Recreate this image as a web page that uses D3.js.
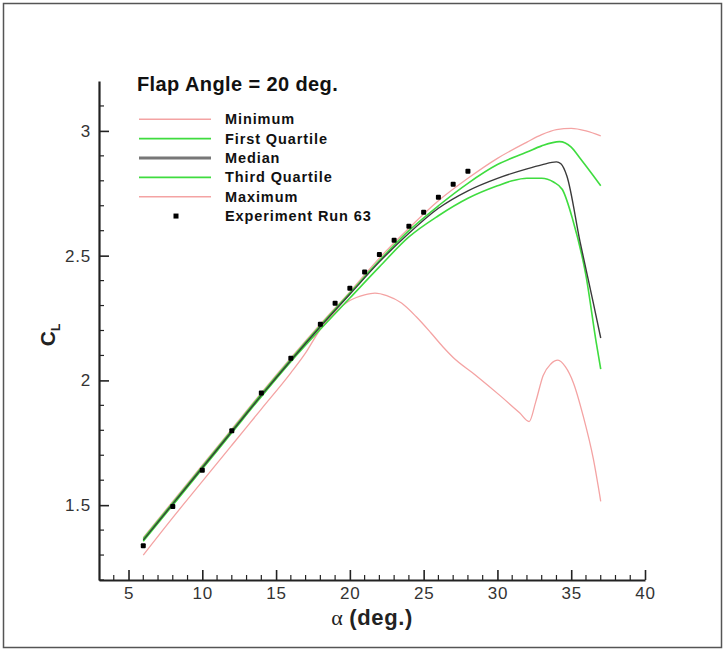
<!DOCTYPE html>
<html>
<head>
<meta charset="utf-8">
<script src="https://cdn.jsdelivr.net/npm/d3@7/dist/d3.min.js"></script>
<style>
  html, body { margin: 0; padding: 0; background: #fff; }
  svg { display: block; }
  text { font-family: "Liberation Sans", Arial, Helvetica, sans-serif; }
</style>
</head>
<body>
<svg id="chart" width="725" height="651"></svg>
<script>
// Lift coefficient vs. angle of attack, flap angle 20 deg.
const minAlpha = [6, 8, 10, 12, 14, 16, 17, 18, 19, 20, 21, 21.7, 22.5, 23.5, 24.5, 25.5, 26.3, 27, 28.5, 30.2, 31.5, 32.15, 32.6, 33.1, 33.6, 34.1, 34.6, 35.15, 35.8, 36.5, 37];
const minCL    = [1.30, 1.45, 1.595, 1.74, 1.885, 2.03, 2.11, 2.205, 2.272, 2.32, 2.343, 2.35, 2.34, 2.31, 2.255, 2.19, 2.135, 2.092, 2.022, 1.938, 1.87, 1.835, 1.915, 2.02, 2.065, 2.081, 2.055, 1.99, 1.86, 1.685, 1.515];

const q1Alpha = [6, 8, 10, 12, 14, 16, 18, 20, 22, 24, 26, 28, 30, 31, 32, 33, 33.8, 34.4, 35.1, 36, 36.7, 37];
const q1CL    = [1.355, 1.50, 1.645, 1.79, 1.935, 2.075, 2.205, 2.33, 2.455, 2.575, 2.66, 2.73, 2.78, 2.80, 2.81, 2.81, 2.795, 2.765, 2.645, 2.42, 2.15, 2.045];

const medAlpha = [6, 8, 10, 12, 14, 16, 18, 20, 22, 24, 26, 28, 30, 32, 33, 34, 34.3, 34.7, 35.6, 36.5, 37];
const medCL    = [1.36, 1.505, 1.65, 1.795, 1.94, 2.08, 2.215, 2.345, 2.475, 2.59, 2.69, 2.76, 2.81, 2.848, 2.864, 2.876, 2.868, 2.82, 2.555, 2.31, 2.17];

const q3Alpha = [6, 8, 10, 12, 14, 16, 18, 20, 22, 24, 26, 28, 30, 32, 33, 34.2, 35, 35.6, 36.5, 37];
const q3CL    = [1.365, 1.51, 1.655, 1.80, 1.945, 2.085, 2.22, 2.35, 2.48, 2.60, 2.70, 2.79, 2.865, 2.915, 2.94, 2.957, 2.935, 2.89, 2.82, 2.78];

const maxAlpha = [6, 8, 10, 12, 14, 16, 18, 20, 22, 24, 26, 28, 30, 32, 33, 34, 35, 36, 37];
const maxCL    = [1.37, 1.515, 1.66, 1.805, 1.95, 2.09, 2.225, 2.355, 2.49, 2.61, 2.72, 2.81, 2.89, 2.955, 2.985, 3.005, 3.01, 3.0, 2.98];

// Wind tunnel run 63
const expAlpha = [6, 8, 10, 12, 14, 16, 18, 19, 20, 21, 22, 23, 24, 25, 26, 27, 28];
const expCL    = [1.337, 1.495, 1.64, 1.798, 1.949, 2.089, 2.225, 2.309, 2.369, 2.434, 2.505, 2.562, 2.618, 2.674, 2.734, 2.786, 2.838];

const xTicks = [5, 10, 15, 20, 25, 30, 35, 40];
const yTicks = [1.5, 2, 2.5, 3];
const legendLabels = ["Minimum", "First Quartile", "Median", "Third Quartile", "Maximum", "Experiment Run 63"];
const titleText = "Flap Angle = 20 deg.";

const svg = d3.select("#chart");
const W = 725, H = 651;

// page frame
svg.append("rect").attr("x", 3.5).attr("y", 3.5).attr("width", W - 7).attr("height", H - 7)
  .attr("fill", "none").attr("stroke", "#555").attr("stroke-width", 1.5);

const x = d3.scaleLinear().domain([3, 40]).range([99, 645]);
const y = d3.scaleLinear().domain([1.2, 3.2]).range([580, 81]);

const axisColor = "#222";

// minor ticks every 1 deg and every 0.1 in C_L
const xMinor = d3.range(4, 40, 1).filter(v => v % 5 !== 0);
const yMinor = d3.range(12, 32, 1).map(v => v / 10).filter(v => Math.abs(v * 2 - Math.round(v * 2)) > 1e-6);

const gx = svg.append("g").attr("transform", `translate(0,${y(1.2)})`);
gx.call(d3.axisBottom(x).tickValues(xTicks).tickSizeInner(-10).tickSizeOuter(0).tickPadding(7).tickFormat(d3.format("d")));
gx.selectAll(".tick text").attr("font-size", 17).attr("letter-spacing", 0.8).attr("fill", "#333")
  .attr("font-family", "Liberation Sans, Arial, sans-serif");
gx.selectAll(".tick line").attr("stroke", axisColor).attr("stroke-width", 1.6);
gx.select(".domain").attr("stroke", axisColor).attr("stroke-width", 2.2);
gx.selectAll(".minor").data(xMinor).enter().append("line").attr("class", "minor")
  .attr("x1", d => x(d)).attr("x2", d => x(d)).attr("y1", 0).attr("y2", -5)
  .attr("stroke", axisColor).attr("stroke-width", 1.2);

const gy = svg.append("g").attr("transform", `translate(${x(3)},0)`);
gy.call(d3.axisLeft(y).tickValues(yTicks).tickSizeInner(-10).tickSizeOuter(0).tickPadding(8).tickFormat(d3.format("")));
gy.selectAll(".tick text").attr("font-size", 17).attr("letter-spacing", 0.8).attr("fill", "#333")
  .attr("font-family", "Liberation Sans, Arial, sans-serif");
gy.selectAll(".tick line").attr("stroke", axisColor).attr("stroke-width", 1.6);
gy.select(".domain").attr("stroke", axisColor).attr("stroke-width", 2.2);
gy.selectAll(".minor").data(yMinor).enter().append("line").attr("class", "minor")
  .attr("x1", 0).attr("x2", 5).attr("y1", d => y(d)).attr("y2", d => y(d))
  .attr("stroke", axisColor).attr("stroke-width", 1.2);

// axis titles
const xt = svg.append("text").attr("x", 372).attr("y", 625).attr("text-anchor", "middle")
  .attr("font-size", 22).attr("fill", "#222");
xt.append("tspan").attr("font-family", "Liberation Serif, Times New Roman, serif").text("α");
xt.append("tspan").attr("font-weight", "bold").attr("letter-spacing", 0.6).text(" (deg.)");

const yt = svg.append("text").attr("transform", "translate(55,335) rotate(-90)")
  .attr("text-anchor", "middle").attr("font-weight", "bold").attr("fill", "#222");
yt.append("tspan").attr("font-size", 21).text("C");
yt.append("tspan").attr("font-size", 12).attr("dy", 5).text("L");

// series curves
const line = d3.line().x(d => x(d[0])).y(d => y(d[1])).curve(d3.curveMonotoneX);
const pink = "#f4a3a3", green = "#3fdc3f", dark = "#3a3a3a";
const series = [
  { a: minAlpha, c: minCL, color: pink, w: 1.3 },
  { a: maxAlpha, c: maxCL, color: pink, w: 1.3 },
  { a: q1Alpha, c: q1CL, color: green, w: 1.6 },
  { a: q3Alpha, c: q3CL, color: green, w: 1.6 },
  { a: medAlpha, c: medCL, color: dark, w: 1.4 }
];
series.forEach(s => {
  svg.append("path").datum(d3.zip(s.a, s.c)).attr("d", line)
    .attr("fill", "none").attr("stroke", s.color).attr("stroke-width", s.w)
    .attr("stroke-linejoin", "round");
});

// experiment markers
svg.selectAll(".exp").data(d3.zip(expAlpha, expCL)).enter().append("rect").attr("class", "exp")
  .attr("x", d => x(d[0]) - 2.5).attr("y", d => y(d[1]) - 2.5)
  .attr("width", 5).attr("height", 5).attr("rx", 1).attr("fill", "#000");

// legend
svg.append("text").attr("x", 137).attr("y", 91).attr("font-size", 20).attr("font-weight", "bold")
  .attr("letter-spacing", 0.4).attr("fill", "#111").text(titleText);
const legendStyles = [
  { color: pink, w: 1.6 }, { color: green, w: 1.8 }, { color: "#777", w: 3 },
  { color: green, w: 1.8 }, { color: pink, w: 1.6 }, null
];
const lg = svg.append("g");
legendLabels.forEach((lab, i) => {
  const yy = 119.3 + i * 19.35;
  const st = legendStyles[i];
  if (st) {
    lg.append("line").attr("x1", 139).attr("x2", 211).attr("y1", yy).attr("y2", yy)
      .attr("stroke", st.color).attr("stroke-width", st.w);
  } else {
    lg.append("rect").attr("x", 173.5).attr("y", yy - 2.5).attr("width", 5).attr("height", 5).attr("fill", "#000");
  }
  lg.append("text").attr("x", 225).attr("y", yy).attr("dy", "0.35em")
    .attr("font-size", 14.5).attr("font-weight", "bold").attr("letter-spacing", 0.9).attr("fill", "#111").text(lab);
});
</script>
</body>
</html>
